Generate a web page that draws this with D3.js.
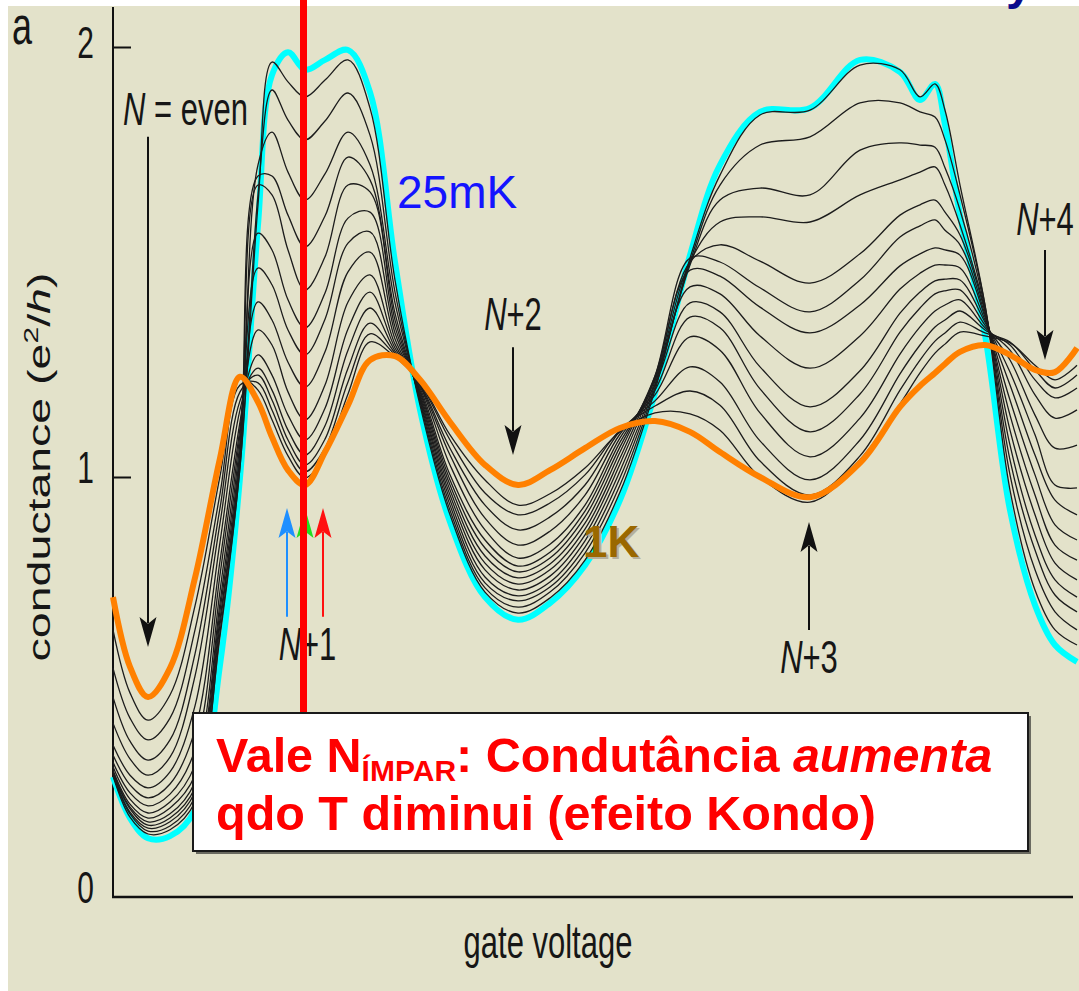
<!DOCTYPE html>
<html>
<head>
<meta charset="utf-8">
<title>Kondo - condutancia vs gate voltage</title>
<script src="https://cdn.jsdelivr.net/npm/d3@7"></script>
<style>
  html, body { margin: 0; padding: 0; background: #ffffff; }
  svg { display: block; }
  text { font-family: "Liberation Sans", Arial, Helvetica, sans-serif; }
</style>
</head>
<body>
<svg id="chart" width="1079" height="991"></svg>
<script>
// --- valores ---
// gate voltage (unid. arbitrarias) dos pontos amostrados, comum a todas as curvas
const gateVoltage = [0, 17, 35, 57, 82, 107, 127, 145, 159, 175, 192, 212, 235, 257, 282, 307, 337, 372, 405, 437, 472, 507, 542, 577, 607, 647, 697, 747, 787, 807, 822, 832, 847, 872, 897, 922, 942, 964];

// condutancia (e^2/h); da curva mais fria (25 mK) para a mais quente (1 K)
const g25mK = [0.286, 0.188, 0.140, 0.145, 0.207, 0.552, 0.998, 1.586, 1.935, 1.988, 1.947, 1.970, 1.993, 1.895, 1.500, 1.156, 0.893, 0.714, 0.660, 0.700, 0.790, 0.945, 1.195, 1.516, 1.726, 1.849, 1.858, 1.970, 1.942, 1.877, 1.914, 1.819, 1.609, 1.330, 0.921, 0.695, 0.600, 0.560];
const gT01 = [0.288, 0.190, 0.150, 0.160, 0.226, 0.629, 1.023, 1.633, 1.965, 1.919, 1.884, 1.923, 1.970, 1.858, 1.458, 1.167, 0.910, 0.726, 0.676, 0.712, 0.802, 0.964, 1.202, 1.509, 1.702, 1.842, 1.853, 1.958, 1.947, 1.884, 1.914, 1.853, 1.679, 1.400, 0.969, 0.731, 0.636, 0.600];
const gT02 = [0.290, 0.198, 0.157, 0.169, 0.238, 0.621, 1.023, 1.656, 1.900, 1.830, 1.784, 1.828, 1.893, 1.795, 1.430, 1.174, 0.921, 0.736, 0.690, 0.726, 0.819, 0.981, 1.209, 1.500, 1.679, 1.772, 1.791, 1.870, 1.870, 1.849, 1.837, 1.784, 1.656, 1.400, 1.005, 0.779, 0.679, 0.636];
const gT03 = [0.293, 0.202, 0.164, 0.179, 0.250, 0.648, 1.044, 1.726, 1.802, 1.709, 1.644, 1.705, 1.802, 1.726, 1.405, 1.179, 0.933, 0.748, 0.705, 0.738, 0.833, 0.998, 1.216, 1.493, 1.644, 1.672, 1.656, 1.760, 1.777, 1.772, 1.767, 1.719, 1.621, 1.393, 1.040, 0.826, 0.719, 0.679];
const gT04 = [0.295, 0.210, 0.171, 0.188, 0.260, 0.662, 1.044, 1.700, 1.700, 1.609, 1.535, 1.607, 1.744, 1.691, 1.381, 1.184, 0.945, 0.762, 0.717, 0.750, 0.848, 1.014, 1.223, 1.500, 1.593, 1.605, 1.593, 1.656, 1.691, 1.709, 1.721, 1.679, 1.586, 1.388, 1.074, 0.862, 0.755, 0.714];
const gT05 = [0.298, 0.214, 0.179, 0.198, 0.274, 0.681, 1.063, 1.679, 1.656, 1.528, 1.435, 1.512, 1.679, 1.663, 1.365, 1.188, 0.957, 0.779, 0.731, 0.764, 0.862, 1.030, 1.230, 1.500, 1.540, 1.502, 1.451, 1.519, 1.609, 1.633, 1.644, 1.616, 1.563, 1.384, 1.109, 0.910, 0.795, 0.755];
const gT06 = [0.302, 0.221, 0.188, 0.212, 0.290, 0.700, 1.081, 1.567, 1.528, 1.412, 1.347, 1.428, 1.602, 1.616, 1.349, 1.193, 0.969, 0.795, 0.745, 0.779, 0.876, 1.044, 1.235, 1.509, 1.500, 1.440, 1.384, 1.458, 1.558, 1.584, 1.598, 1.574, 1.540, 1.377, 1.144, 0.957, 0.838, 0.802];
const gT07 = [0.310, 0.233, 0.200, 0.226, 0.314, 0.729, 1.100, 1.486, 1.447, 1.342, 1.284, 1.367, 1.544, 1.570, 1.335, 1.198, 0.981, 0.812, 0.760, 0.793, 0.890, 1.058, 1.235, 1.481, 1.467, 1.395, 1.335, 1.400, 1.491, 1.519, 1.533, 1.528, 1.516, 1.372, 1.179, 1.005, 0.886, 0.850];
const gT08 = [0.321, 0.248, 0.217, 0.245, 0.350, 0.767, 1.114, 1.407, 1.365, 1.267, 1.209, 1.291, 1.477, 1.523, 1.321, 1.202, 0.993, 0.831, 0.774, 0.807, 0.905, 1.070, 1.226, 1.442, 1.426, 1.328, 1.253, 1.328, 1.437, 1.474, 1.493, 1.493, 1.486, 1.365, 1.214, 1.051, 0.945, 0.910];
const gT09 = [0.338, 0.267, 0.236, 0.269, 0.398, 0.800, 1.128, 1.342, 1.307, 1.198, 1.133, 1.214, 1.407, 1.470, 1.309, 1.207, 1.005, 0.850, 0.788, 0.821, 0.919, 1.081, 1.214, 1.405, 1.384, 1.256, 1.163, 1.247, 1.381, 1.430, 1.456, 1.460, 1.458, 1.360, 1.244, 1.098, 0.981, 0.974];
const gT10 = [0.362, 0.290, 0.260, 0.298, 0.455, 0.845, 1.156, 1.284, 1.237, 1.144, 1.086, 1.160, 1.344, 1.430, 1.300, 1.212, 1.028, 0.874, 0.807, 0.840, 0.933, 1.091, 1.202, 1.372, 1.347, 1.205, 1.105, 1.193, 1.337, 1.393, 1.426, 1.433, 1.435, 1.353, 1.272, 1.144, 1.067, 1.074];
const gT11 = [0.414, 0.329, 0.290, 0.333, 0.526, 0.890, 1.177, 1.253, 1.202, 1.109, 1.051, 1.119, 1.295, 1.393, 1.293, 1.214, 1.051, 0.902, 0.838, 0.871, 0.957, 1.100, 1.191, 1.326, 1.295, 1.149, 1.047, 1.137, 1.286, 1.349, 1.386, 1.400, 1.412, 1.347, 1.295, 1.191, 1.137, 1.156];
const gT12 = [0.476, 0.371, 0.326, 0.374, 0.579, 0.926, 1.198, 1.237, 1.179, 1.086, 1.028, 1.088, 1.253, 1.358, 1.288, 1.216, 1.067, 0.933, 0.874, 0.905, 0.981, 1.107, 1.177, 1.256, 1.221, 1.084, 0.993, 1.086, 1.240, 1.307, 1.349, 1.365, 1.386, 1.342, 1.307, 1.226, 1.184, 1.207];
const gT13 = [0.545, 0.426, 0.374, 0.426, 0.636, 0.960, 1.214, 1.219, 1.156, 1.067, 1.012, 1.067, 1.221, 1.333, 1.284, 1.219, 1.086, 0.962, 0.910, 0.938, 1.005, 1.109, 1.165, 1.200, 1.167, 1.037, 0.957, 1.049, 1.202, 1.272, 1.316, 1.335, 1.360, 1.335, 1.314, 1.249, 1.207, 1.237];
const gT14 = [0.636, 0.486, 0.421, 0.481, 0.693, 1.002, 1.230, 1.202, 1.133, 1.049, 0.998, 1.051, 1.193, 1.314, 1.279, 1.221, 1.098, 0.993, 0.933, 0.960, 1.021, 1.105, 1.149, 1.147, 1.109, 1.000, 0.940, 1.040, 1.170, 1.242, 1.288, 1.309, 1.337, 1.328, 1.312, 1.260, 1.226, 1.260];
const g1K = [0.714, 0.548, 0.476, 0.545, 0.760, 1.044, 1.233, 1.174, 1.093, 1.016, 0.981, 1.058, 1.167, 1.272, 1.281, 1.226, 1.128, 1.028, 0.981, 1.016, 1.067, 1.114, 1.130, 1.105, 1.058, 1.000, 0.952, 1.033, 1.163, 1.212, 1.242, 1.263, 1.291, 1.307, 1.284, 1.249, 1.244, 1.300];

const blackTraces = [gT01, gT02, gT03, gT04, gT05, gT06, gT07, gT08, gT09, gT10, gT11, gT12, gT13, gT14];

// eixo y
const yTickValues = [0, 1, 2];
const yTickLabels = ["0", "1", "2"];

// setas dos vales (gate voltage, condutancia de inicio e da ponta)
const valleyNames = ["N = even", "N+2", "N+3", "N+4"];
const valleyGate = [35, 400, 696, 932];
const valleyArrowFrom = [1.791, 1.302, 0.636, 1.528];
const valleyArrowTo = [0.595, 1.051, 0.893, 1.272];

// setas coloridas do vale N+1
const oddArrowGate = [174, 192, 210];
const oddArrowColors = ["#1e8fff", "#22dd22", "#ff1010"];
const oddArrowFrom = 0.667;
const oddArrowTo = 0.926;
const redLineGate = 190.5;

// --- desenho ---
const W = 1079, H = 991;
const svg = d3.select("#chart");

const x = d3.scaleLinear().domain([0, 966]).range([113, 1079]);
const y = d3.scaleLinear().domain([0, 1, 2]).range([897, 477, 47]);

// fundo bege da figura
svg.append("rect")
  .attr("x", 8).attr("y", 6)
  .attr("width", W - 8).attr("height", H - 6)
  .attr("fill", "#e3e2ca");

// texto "esticado" na vertical, como na figura original
function figText(parent, px, py, size, anchor) {
  return parent.append("text")
    .attr("transform", `translate(${px},${py}) scale(1,1.5)`)
    .attr("font-size", size)
    .attr("text-anchor", anchor || "start")
    .attr("fill", "#161616");
}

// eixos
const axes = svg.append("g");
axes.append("line")
  .attr("x1", x(0)).attr("x2", x(0))
  .attr("y1", 7).attr("y2", y(0))
  .attr("stroke", "#111").attr("stroke-width", 2);
axes.append("line")
  .attr("x1", x(0) - 1).attr("x2", 1073)
  .attr("y1", y(0)).attr("y2", y(0))
  .attr("stroke", "#111").attr("stroke-width", 2.5);

const yAxis = d3.axisLeft(y)
  .tickValues(yTickValues.filter(v => v > 0))
  .tickSizeInner(-18)
  .tickSizeOuter(0)
  .tickFormat("");
axes.append("g")
  .attr("transform", `translate(${x(0)},0)`)
  .call(yAxis)
  .call(g => g.select(".domain").remove())
  .selectAll("line").attr("stroke", "#111").attr("stroke-width", 2);

yTickValues.forEach((v, i) => {
  const off = v === 2 ? 11 : 6;
  figText(axes, 94, y(v) + off, 30, "end").text(yTickLabels[i]);
});

// titulo do eixo y (girado)
const yTitle = svg.append("text")
  .attr("transform", `translate(50,${y(1) - 10}) rotate(-90) scale(1.5,1)`)
  .attr("font-size", 31)
  .attr("text-anchor", "middle")
  .attr("fill", "#161616");
yTitle.append("tspan").text("conductance (e");
yTitle.append("tspan").attr("font-size", 20).attr("dy", -12).text("2");
yTitle.append("tspan").attr("dy", 12).text("/");
yTitle.append("tspan").attr("font-style", "italic").text("h");
yTitle.append("tspan").text(")");

figText(svg, x(435), 958, 31, "middle").text("gate voltage");
figText(svg, 12, 44, 36).text("a");

// curvas
const line = d3.line()
  .x((d, i) => x(gateVoltage[i]))
  .y(d => y(d))
  .curve(d3.curveCatmullRom.alpha(0.5));

const traces = svg.append("g").attr("fill", "none");
traces.append("path")
  .attr("d", line(g25mK))
  .attr("stroke", "#00ffff")
  .attr("stroke-width", 6)
  .attr("stroke-linejoin", "round");

traces.selectAll(".mid")
  .data(blackTraces)
  .enter().append("path")
  .attr("class", "mid")
  .attr("d", d => line(d))
  .attr("stroke", "#1c1c1c")
  .attr("stroke-width", 1.3);

traces.append("path")
  .attr("d", line(g1K))
  .attr("stroke", "#ff8000")
  .attr("stroke-width", 6)
  .attr("stroke-linejoin", "round");

// setas
function arrow(parent, px, yFrom, yTo, color) {
  const dir = yTo > yFrom ? 1 : -1;
  const len = 30, half = 8.5;
  parent.append("line")
    .attr("x1", px).attr("x2", px)
    .attr("y1", yFrom).attr("y2", yTo - dir * len * 0.8)
    .attr("stroke", color).attr("stroke-width", 2);
  parent.append("path")
    .attr("d", `M${px},${yTo} L${px - half},${yTo - dir * len} L${px},${yTo - dir * len * 0.78} L${px + half},${yTo - dir * len} Z`)
    .attr("fill", color);
}

const notes = svg.append("g");
valleyGate.forEach((gv, i) => {
  arrow(notes, x(gv), y(valleyArrowFrom[i]), y(valleyArrowTo[i]), "#111");
});

function nLabel(str, px, py, anchor) {
  const t = figText(notes, px, py, 31, anchor);
  t.append("tspan").attr("font-style", "italic").text("N");
  t.append("tspan").text(str);
}
nLabel(" = even", 123, 125, "start");
nLabel("+2", x(valleyGate[1]), 330, "middle");
nLabel("+3", x(valleyGate[2]), 673, "middle");
nLabel("+4", x(valleyGate[3]), 235, "middle");
nLabel("+1", x(redLineGate) + 4, 660, "middle");

oddArrowGate.forEach((gv, i) => {
  arrow(notes, x(gv), y(oddArrowFrom), y(oddArrowTo), oddArrowColors[i]);
});

// rotulos de temperatura
svg.append("text")
  .attr("x", 397).attr("y", 208)
  .attr("font-size", 46)
  .attr("fill", "#1414ff")
  .text("25mK");
svg.append("text")
  .attr("x", 585).attr("y", 559)
  .attr("font-size", 44).attr("font-weight", "bold")
  .attr("fill", "#b5b09c")
  .text("1K");
svg.append("text")
  .attr("x", 583).attr("y", 557)
  .attr("font-size", 44).attr("font-weight", "bold")
  .attr("fill", "#9a6800")
  .text("1K");

// linha vermelha vertical no vale impar
svg.append("line")
  .attr("x1", x(redLineGate)).attr("x2", x(redLineGate))
  .attr("y1", 0).attr("y2", 714)
  .attr("stroke", "#ff0000").attr("stroke-width", 7);

// "y" azul cortado no topo (resto do titulo do slide)
svg.append("text")
  .attr("x", 1006).attr("y", -1)
  .attr("font-size", 48).attr("font-weight", "bold")
  .attr("fill", "#0b0b8c")
  .text("y");

// caixa de texto
const box = svg.append("g");
box.append("rect")
  .attr("x", 196).attr("y", 716).attr("width", 835).attr("height", 138)
  .attr("fill", "#6a6a60");
box.append("rect")
  .attr("x", 193).attr("y", 713).attr("width", 835).attr("height", 138)
  .attr("fill", "#ffffff").attr("stroke", "#1a1a1a").attr("stroke-width", 2);

const l1 = box.append("text")
  .attr("x", 216).attr("y", 772)
  .attr("font-size", 48.5).attr("font-weight", "bold")
  .attr("fill", "#ff0000");
l1.append("tspan").text("Vale N");
l1.append("tspan").attr("font-size", 30).attr("dy", 9).text("ÍMPAR");
l1.append("tspan").attr("dy", -9).text(": Condutância ");
l1.append("tspan").attr("font-style", "italic").text("aumenta");

box.append("text")
  .attr("x", 216).attr("y", 830)
  .attr("font-size", 48.5).attr("font-weight", "bold")
  .attr("fill", "#ff0000")
  .text("qdo T diminui (efeito Kondo)");
</script>
</body>
</html>
